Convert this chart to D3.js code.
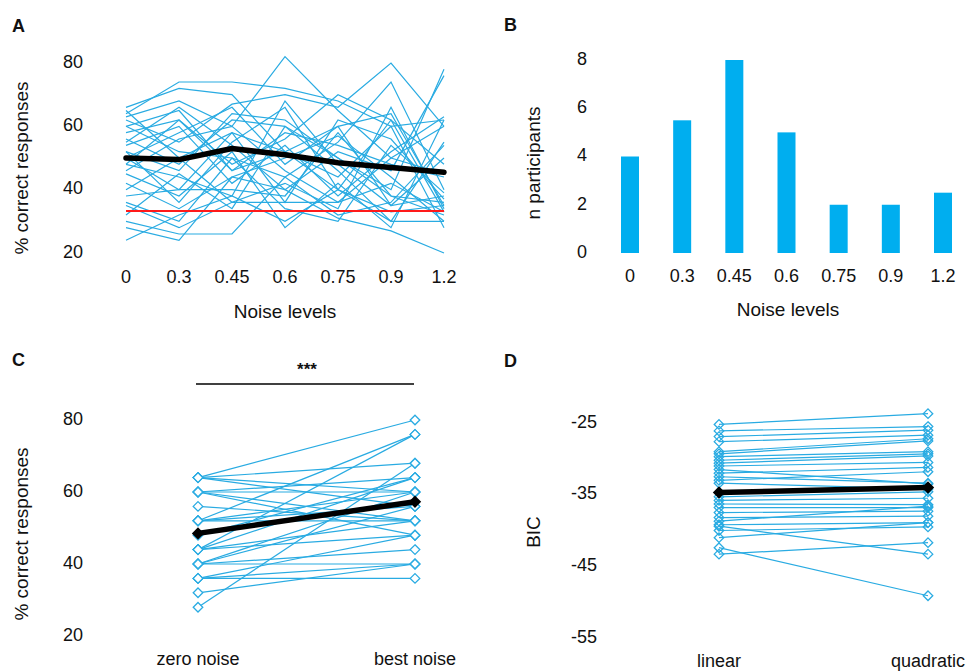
<!DOCTYPE html>
<html lang="en">
<head>
<meta charset="UTF-8">
<title>Noise levels and correct responses</title>
<script src="https://d3js.org/d3.v7.min.js"></script>
<style>
    body { margin: 0; background: #ffffff; font-family: 'Liberation Sans', Arial, sans-serif; }
    svg text { fill: #111111; }
    .tick-label { font-size: 18px; }
    .axis-title { font-size: 19px; }
    .panel-letter { font-size: 18px; font-weight: 700; }
</style>
</head>
<body>
<svg id="fig" width="971" height="671"></svg>
<script>
    const BLUE = "#29abe2";
    const BAR_BLUE = "#00aeef";

    // --- data ---
    const noiseLevels = ["0", "0.3", "0.45", "0.6", "0.75", "0.9", "1.2"];

    // A: % correct per participant at each noise level
    const participantsA = [
        [66, 72, 70, 52, 60, 64, 35],
        [64, 74, 74, 72, 68, 60, 62],
        [63, 68, 60, 82, 65, 50, 45],
        [62, 55, 67, 70, 66, 80, 60],
        [60, 52, 50, 44, 55, 74, 40],
        [58, 62, 48, 56, 70, 62, 33],
        [56, 48, 62, 60, 50, 40, 78],
        [55, 66, 54, 40, 52, 46, 76],
        [54, 60, 42, 54, 38, 52, 63],
        [52, 36, 55, 66, 40, 30, 55],
        [50, 58, 66, 48, 60, 35, 50],
        [50, 40, 58, 36, 62, 56, 37],
        [48, 62, 46, 52, 44, 60, 28],
        [48, 44, 38, 68, 48, 35, 38],
        [46, 56, 60, 46, 36, 50, 60],
        [45, 38, 52, 28, 42, 28, 62],
        [42, 34, 44, 50, 57, 44, 30],
        [40, 50, 36, 42, 34, 66, 34],
        [38, 40, 40, 38, 58, 38, 36],
        [36, 30, 50, 34, 30, 54, 39],
        [35, 28, 36, 36, 36, 42, 33],
        [32, 45, 34, 60, 46, 30, 30],
        [30, 26, 26, 44, 32, 36, 54],
        [28, 24, 44, 40, 31, 27, 20],
        [24, 32, 38, 30, 40, 33, 35],
        [60, 65, 46, 58, 54, 48, 44],
        [65, 50, 58, 52, 40, 62, 48],
        [52, 46, 64, 62, 50, 38, 32]
    ];
    const meanA = [50, 49.5, 53, 51, 48.5, 47, 45.5];
    const chanceLevel = 33.3;
    const ticksA = [20, 40, 60, 80];

    // B: participants whose best noise level is each level
    const bestCounts = [4, 5.5, 8, 5, 2, 2, 2.5];
    const ticksB = [0, 2, 4, 6, 8];

    // C: zero noise vs best noise
    const conditionsC = ["zero noise", "best noise"];
    const zeroNoise = [64, 64, 64, 64, 60, 60, 60, 60, 56, 52, 52, 52, 52, 48, 44, 44, 44, 44, 40, 40, 40, 40, 36, 36, 36, 32, 28];
    const bestNoise = [80, 68, 60, 56, 64, 60, 52, 48, 52, 76, 60, 56, 52, 64, 76, 64, 52, 48, 60, 56, 44, 40, 40, 36, 48, 40, 68];
    const meanC = [48.5, 57.3];
    const ticksC = [20, 40, 60, 80];

    // D: BIC of linear vs quadratic fit
    const modelsD = ["linear", "quadratic"];
    const bicLinear = [-25.2, -26.1, -26.9, -27.6, -29.0, -29.3, -29.7, -30.2, -30.6, -31.0, -31.5, -32.0, -32.5, -33.0, -33.4,
        -35.3, -35.8, -36.3, -36.8, -37.5, -38.2, -38.7, -39.2, -39.4, -40.0, -41.0, -42.4, -43.3];
    const bicQuadratic = [-23.7, -25.5, -26.0, -26.7, -27.2, -27.5, -29.0, -29.3, -29.6, -30.5, -33.5, -31.2, -33.4, -31.8, -34.2,
        -34.6, -35.5, -36.4, -36.8, -37.3, -38.0, -36.6, -38.9, -43.3, -39.5, -38.9, -49.1, -41.7];
    const meanD = [-34.7, -34.0];
    const ticksD = [-25, -35, -45, -55];

    const svg = d3.select("#fig");

    function panelLetter(letter, x, y) {
        svg.append("text").attr("class", "panel-letter").attr("x", x).attr("y", y).text(letter);
    }

    function yTicks(ticks, y, xRight) {
        svg.append("g").selectAll("text").data(ticks).join("text")
            .attr("class", "tick-label")
            .attr("x", xRight).attr("y", d => y(d))
            .attr("text-anchor", "end").attr("dominant-baseline", "middle")
            .text(d => d);
    }

    function xTicks(x, cats, yPos) {
        svg.append("g").selectAll("text").data(cats).join("text")
            .attr("class", "tick-label")
            .attr("x", d => x(d)).attr("y", yPos)
            .attr("text-anchor", "middle").attr("dominant-baseline", "middle")
            .text(d => d);
    }

    function yTitle(text, x, yMid) {
        svg.append("text").attr("class", "axis-title")
            .attr("transform", `translate(${x},${yMid}) rotate(-90)`)
            .attr("text-anchor", "middle").attr("dominant-baseline", "middle")
            .text(text);
    }

    function xTitle(text, xMid, y) {
        svg.append("text").attr("class", "axis-title")
            .attr("x", xMid).attr("y", y)
            .attr("text-anchor", "middle").attr("dominant-baseline", "middle")
            .text(text);
    }

    const diamond = d3.symbol().type(d3.symbolDiamond2).size(58);

    // --- Panel A ---
    (function () {
        const x = d3.scalePoint().domain(noiseLevels).range([126, 444]);
        const y = d3.scaleLinear().domain([20, 80]).range([253, 63]);
        const line = d3.line().x((d, i) => x(noiseLevels[i])).y(d => y(d));

        svg.append("g").selectAll("path").data(participantsA).join("path")
            .attr("d", line).attr("fill", "none")
            .attr("stroke", BLUE).attr("stroke-width", 1.2);

        svg.append("line")
            .attr("x1", x("0")).attr("x2", x("1.2"))
            .attr("y1", y(chanceLevel)).attr("y2", y(chanceLevel))
            .attr("stroke", "#ff1a1a").attr("stroke-width", 2);

        svg.append("path").datum(meanA).attr("d", line)
            .attr("fill", "none").attr("stroke", "#000").attr("stroke-width", 5.5)
            .attr("stroke-linecap", "round").attr("stroke-linejoin", "round");

        panelLetter("A", 12, 32);
        yTicks(ticksA, y, 83);
        xTicks(x, noiseLevels, 278);
        yTitle("% correct responses", 23, 168);
        xTitle("Noise levels", 285, 313);
    })();

    // --- Panel B ---
    (function () {
        const x = d3.scalePoint().domain(noiseLevels).range([630, 943]);
        const y = d3.scaleLinear().domain([0, 8]).range([253, 60]);
        const bw = 18;

        svg.append("g").selectAll("rect").data(bestCounts).join("rect")
            .attr("x", (d, i) => x(noiseLevels[i]) - bw / 2)
            .attr("y", d => y(d))
            .attr("width", bw)
            .attr("height", d => y(0) - y(d))
            .attr("fill", BAR_BLUE);

        panelLetter("B", 504, 31);
        yTicks(ticksB, y, 587);
        xTicks(x, noiseLevels, 277);
        yTitle("n participants", 535, 163);
        xTitle("Noise levels", 788, 311);
    })();

    // --- Panel C ---
    (function () {
        const x = d3.scalePoint().domain(conditionsC).range([198, 415]);
        const y = d3.scaleLinear().domain([20, 80]).range([636, 420]);
        const pairs = zeroNoise.map((z, i) => [z, bestNoise[i]]);
        const line = d3.line().x((d, i) => x(conditionsC[i])).y(d => y(d));

        svg.append("g").selectAll("path").data(pairs).join("path")
            .attr("d", line).attr("fill", "none")
            .attr("stroke", BLUE).attr("stroke-width", 1.2);

        const pts = pairs.flatMap(p => p.map((v, i) => ({ c: conditionsC[i], v })));
        svg.append("g").selectAll("path").data(pts).join("path")
            .attr("d", diamond)
            .attr("transform", d => `translate(${x(d.c)},${y(d.v)})`)
            .attr("fill", "#fff").attr("stroke", BLUE).attr("stroke-width", 1.3);

        svg.append("path").datum(meanC).attr("d", line)
            .attr("fill", "none").attr("stroke", "#000").attr("stroke-width", 5.5);
        svg.append("g").selectAll("path").data(meanC).join("path")
            .attr("d", diamond)
            .attr("transform", (d, i) => `translate(${x(conditionsC[i])},${y(d)})`)
            .attr("fill", "#000").attr("stroke", "#000").attr("stroke-width", 2);

        // significance bar
        svg.append("line").attr("x1", 196).attr("x2", 414).attr("y1", 384).attr("y2", 384)
            .attr("stroke", "#000").attr("stroke-width", 1.6);
        svg.append("text").attr("x", 307).attr("y", 375).attr("text-anchor", "middle")
            .style("font-size", "17px").style("font-weight", "700").text("***");

        panelLetter("C", 12, 366);
        yTicks(ticksC, y, 83);
        svg.append("g").selectAll("text").data(conditionsC).join("text")
            .attr("class", "tick-label")
            .attr("x", d => x(d)).attr("y", 660)
            .attr("text-anchor", "middle").attr("dominant-baseline", "middle")
            .text(d => d);
        yTitle("% correct responses", 23, 534);
    })();

    // --- Panel D ---
    (function () {
        const x = d3.scalePoint().domain(modelsD).range([719, 928]);
        const y = d3.scaleLinear().domain([-55, -25]).range([638, 423]);
        const pairs = bicLinear.map((l, i) => [l, bicQuadratic[i]]);
        const line = d3.line().x((d, i) => x(modelsD[i])).y(d => y(d));

        svg.append("g").selectAll("path").data(pairs).join("path")
            .attr("d", line).attr("fill", "none")
            .attr("stroke", BLUE).attr("stroke-width", 1.2);

        const pts = pairs.flatMap(p => p.map((v, i) => ({ c: modelsD[i], v })));
        svg.append("g").selectAll("path").data(pts).join("path")
            .attr("d", diamond)
            .attr("transform", d => `translate(${x(d.c)},${y(d.v)})`)
            .attr("fill", "none").attr("stroke", BLUE).attr("stroke-width", 1.3);

        svg.append("path").datum(meanD).attr("d", line)
            .attr("fill", "none").attr("stroke", "#000").attr("stroke-width", 5.5);
        svg.append("g").selectAll("path").data(meanD).join("path")
            .attr("d", diamond)
            .attr("transform", (d, i) => `translate(${x(modelsD[i])},${y(d)})`)
            .attr("fill", "#000").attr("stroke", "#000").attr("stroke-width", 2);

        panelLetter("D", 504, 367);
        yTicks(ticksD, y, 597);
        svg.append("g").selectAll("text").data(modelsD).join("text")
            .attr("class", "tick-label")
            .attr("x", d => x(d)).attr("y", 662)
            .attr("text-anchor", "middle").attr("dominant-baseline", "middle")
            .text(d => d);
        yTitle("BIC", 535, 532);
    })();
</script>
</body>
</html>
